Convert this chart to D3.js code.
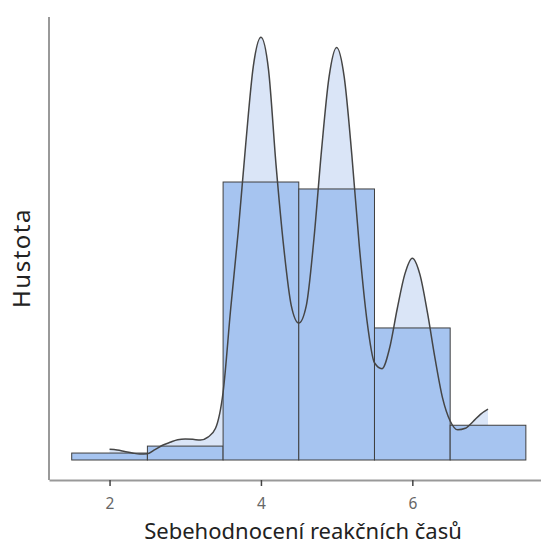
<!DOCTYPE html>
<html>
<head>
<meta charset="utf-8">
<script src="https://cdn.jsdelivr.net/npm/d3@7"></script>
<style>
  html, body { margin: 0; padding: 0; background: #fff; }
  body { width: 541px; height: 546px; overflow: hidden; }
  text { font-family: "Noto Sans", "Open Sans", sans-serif; }
</style>
</head>
<body>
<script>
const width = 541;
const height = 546;

// histogram bins (start of each bin, width 1) and counts
const binStarts = [1.5, 2.5, 3.5, 4.5, 5.5, 6.5];
const binCounts = [1, 2, 40, 39, 19, 5];
const binWidth = 1;

// density curve
const kdeX = [2.0, 2.1, 2.2, 2.3, 2.4, 2.5, 2.6, 2.7, 2.8, 2.9,
  3.0, 3.1, 3.2, 3.3, 3.4, 3.5, 3.6, 3.7, 3.8, 3.9,
  4.0, 4.1, 4.2, 4.3, 4.4, 4.5, 4.6, 4.7, 4.8, 4.9,
  5.0, 5.1, 5.2, 5.3, 5.4, 5.5, 5.6, 5.7, 5.8, 5.9,
  6.0, 6.1, 6.2, 6.3, 6.4, 6.5, 6.6, 6.7, 6.8, 6.9, 7.0];
const kdeY = [0.0145, 0.0135, 0.0115, 0.0095, 0.008, 0.0085, 0.014, 0.020, 0.024, 0.0275,
  0.0285, 0.028, 0.027, 0.031, 0.043, 0.092, 0.205, 0.31, 0.43, 0.535,
  0.574, 0.53, 0.40, 0.29, 0.21, 0.186, 0.21, 0.30, 0.42, 0.52,
  0.560, 0.52, 0.415, 0.29, 0.19, 0.132, 0.124, 0.152, 0.205, 0.252,
  0.274, 0.252, 0.20, 0.138, 0.084, 0.053, 0.041, 0.043, 0.052, 0.062, 0.069];

const xTicks = [2, 4, 6];
const xTitle = "Sebehodnocení reakčních časů";
const yTitle = "Hustota";

const total = d3.sum(binCounts);
const bins = binStarts.map((s, i) => ({
  x0: s,
  x1: s + binWidth,
  density: binCounts[i] / (total * binWidth),
}));
const kde = kdeX.map((x, i) => ({ x, y: kdeY[i] }));

const x = d3.scaleLinear().domain([1.2, 7.7]).range([49, 541]);
const y = d3.scaleLinear().domain([0, 0.6]).range([460, 18]);
const axisY = 480;

const svg = d3.create("svg")
  .attr("width", width)
  .attr("height", height)
  .attr("viewBox", [0, 0, width, height]);

// density fill (behind bars)
const area = d3.area()
  .x((d) => x(d.x))
  .y0(y(0))
  .y1((d) => y(d.y))
  .curve(d3.curveMonotoneX);

svg.append("path")
  .datum(kde)
  .attr("d", area)
  .attr("fill", "#dae5f7");

svg.append("g")
  .selectAll("rect")
  .data(bins)
  .join("rect")
  .attr("x", (d) => x(d.x0))
  .attr("y", (d) => y(d.density))
  .attr("width", (d) => x(d.x1) - x(d.x0))
  .attr("height", (d) => y(0) - y(d.density))
  .attr("fill", "#a6c4f0")
  .attr("stroke", "#3f3f3f")
  .attr("stroke-width", 1);

const line = d3.line()
  .x((d) => x(d.x))
  .y((d) => y(d.y))
  .curve(d3.curveMonotoneX);

svg.append("path")
  .datum(kde)
  .attr("d", line)
  .attr("fill", "none")
  .attr("stroke", "#454545")
  .attr("stroke-width", 1.5);

// axes
svg.append("line")
  .attr("x1", x.range()[0]).attr("x2", x.range()[0])
  .attr("y1", 17).attr("y2", axisY)
  .attr("stroke", "#999")
  .attr("stroke-width", 2);

const xAxis = svg.append("g")
  .attr("transform", `translate(0,${axisY})`)
  .call(d3.axisBottom(x).tickValues(xTicks).tickSize(6).tickSizeOuter(0).tickFormat(d3.format("d")));

xAxis.select(".domain").attr("stroke", "#999").attr("stroke-width", 2);
xAxis.selectAll(".tick line").attr("stroke", "#444").attr("stroke-width", 1.5);
xAxis.selectAll(".tick text")
  .attr("fill", "#666")
  .attr("font-size", 15.5)
  .attr("font-family", "Noto Sans, sans-serif")
  .attr("dy", "1.3em");

svg.append("text")
  .attr("x", 303)
  .attr("y", 539)
  .attr("text-anchor", "middle")
  .attr("font-size", 22)
  .attr("fill", "#222")
  .text(xTitle);

svg.append("text")
  .attr("transform", `translate(30,258) rotate(-90)`)
  .attr("text-anchor", "middle")
  .attr("font-size", 24)
  .attr("letter-spacing", 1.5)
  .attr("fill", "#222")
  .text(yTitle);

document.body.appendChild(svg.node());
</script>
</body>
</html>
